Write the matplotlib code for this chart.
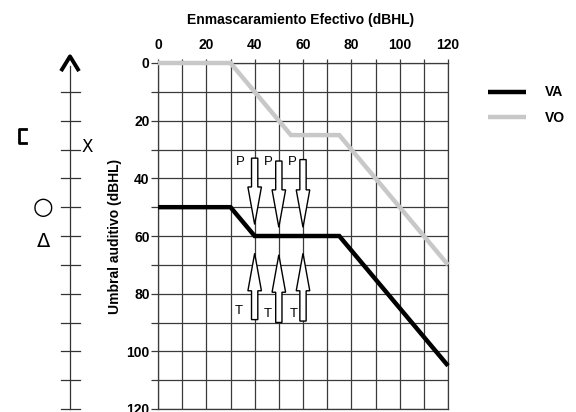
import matplotlib
matplotlib.use("Agg")
import matplotlib.pyplot as plt

plt.rcParams['font.family'] = ['Liberation Sans', 'DejaVu Sans']

# Data
va_x = [0, 30, 40, 75, 120]
va_y = [50, 50, 60, 60, 105]
vo_x = [0, 30, 55, 75, 120]
vo_y = [0, 0, 25, 25, 70]
x_ticks = [0, 20, 40, 60, 80, 100, 120]
y_ticks = [0, 20, 40, 60, 80, 100, 120]
p_arrow_x = [40, 50, 60]
p_arrow_top = [33, 34, 33.5]
p_arrow_tip = [56, 57, 57]
t_arrow_x = [40, 50, 60]
t_arrow_bottom = [89, 90, 89.5]
t_arrow_tip = [66, 66.5, 66]
p_label_x = [34, 45.5, 55.5]
p_label_y = [34.5, 34.5, 34.5]
t_label_x = [33.5, 45.5, 56]
t_label_y = [86, 87, 87]

W, H = 576, 412
fig = plt.figure(figsize=(W / 100, H / 100), dpi=100)

def fx(px):
    return px / W

def fy(py):
    return 1 - py / H

left, right, top, bottom = 158, 448, 63, 409
ax = fig.add_axes([fx(left), fy(bottom), fx(right) - fx(left), fy(top) - fy(bottom)])
ax.set_xlim(0, 120)
ax.set_ylim(120, 0)

gridc = '#3a3a3a'
fs = 10
ax.set_xticks(range(0, 121, 10))
ax.set_yticks(range(0, 121, 10))
ax.set_xticklabels([str(v) if v in x_ticks else '' for v in range(0, 121, 10)],
                   fontsize=fs, fontweight='bold')
ax.set_yticklabels([str(v) if v in y_ticks else '' for v in range(0, 121, 10)],
                   fontsize=fs, fontweight='bold')
ax.xaxis.tick_top()
ax.tick_params(axis='x', length=3, width=0.9, color=gridc, pad=5)
ax.tick_params(axis='y', length=5, width=0.9, color=gridc, pad=1)
ax.grid(True, color=gridc, linewidth=0.9)
for s in ax.spines.values():
    s.set_color(gridc)
    s.set_linewidth(0.9)

ax.set_ylabel('Umbral auditivo (dBHL)', fontsize=fs, fontweight='bold', labelpad=3)

lvo, = ax.plot(vo_x, vo_y, color='#c8c8c8', linewidth=3.2, solid_capstyle='butt',
               solid_joinstyle='miter', label='VO', zorder=3, clip_on=False)
lva, = ax.plot(va_x, va_y, color='black', linewidth=3.2, solid_capstyle='butt',
               solid_joinstyle='miter', label='VA', zorder=4, clip_on=False)

# arrows
for x, y0, y1 in zip(p_arrow_x, p_arrow_top, p_arrow_tip):
    ax.arrow(x, y0, 0, y1 - y0, width=2.6, head_width=5.6, head_length=13,
             length_includes_head=True, facecolor='white', edgecolor='black',
             linewidth=1.0, zorder=5)
for x, y0, y1 in zip(t_arrow_x, t_arrow_bottom, t_arrow_tip):
    ax.arrow(x, y0, 0, y1 - y0, width=2.6, head_width=5.6, head_length=13,
             length_includes_head=True, facecolor='white', edgecolor='black',
             linewidth=1.0, zorder=5)
for x, y in zip(p_label_x, p_label_y):
    ax.text(x, y, 'P', fontsize=9.5, ha='center', va='center', zorder=6)
for x, y in zip(t_label_x, t_label_y):
    ax.text(x, y, 'T', fontsize=9.5, ha='center', va='center', zorder=6)

fig.text(fx(301), fy(20), 'Enmascaramiento Efectivo (dBHL)', fontsize=fs,
         fontweight='bold', ha='center', va='center')

# left side scale axis
sax = fig.add_axes([0, fy(bottom), fx(150), fy(top) - fy(bottom)])
sax.set_xlim(0, 150)
sax.set_ylim(120, 0)
sax.axis('off')
sax.plot([70, 70], [1, 120], color='#333333', linewidth=0.9, clip_on=False)
for v in range(10, 121, 10):
    sax.plot([61, 80], [v, v], color='#333333', linewidth=0.9, clip_on=False)
# caret
sax.plot([61, 70, 79], [2.8, -2.3, 2.8], color='black', linewidth=2.8,
         solid_capstyle='butt', clip_on=False)
# bracket [
sax.plot([26, 19, 19, 26], [22.8, 22.8, 27.8, 27.8], color='black', linewidth=2.0,
         clip_on=False)
sax.text(87, 29, 'X', fontsize=12, ha='center', va='center', family='DejaVu Sans')
fig.text(fx(43), fy(207), '○', fontsize=17, ha='center', va='center', family='DejaVu Sans')
fig.text(fx(44), fy(242), 'Δ', fontsize=14, ha='center', va='center', family='DejaVu Sans')

fig.legend(handles=[lva, lvo], labels=['VA', 'VO'], loc='upper left',
           bbox_to_anchor=(fx(475), fy(73)), frameon=False,
           prop={'size': fs, 'weight': 'bold'}, handlelength=2.8,
           handletextpad=1.3, labelspacing=0.85)

fig.savefig('out.png', dpi=100)
